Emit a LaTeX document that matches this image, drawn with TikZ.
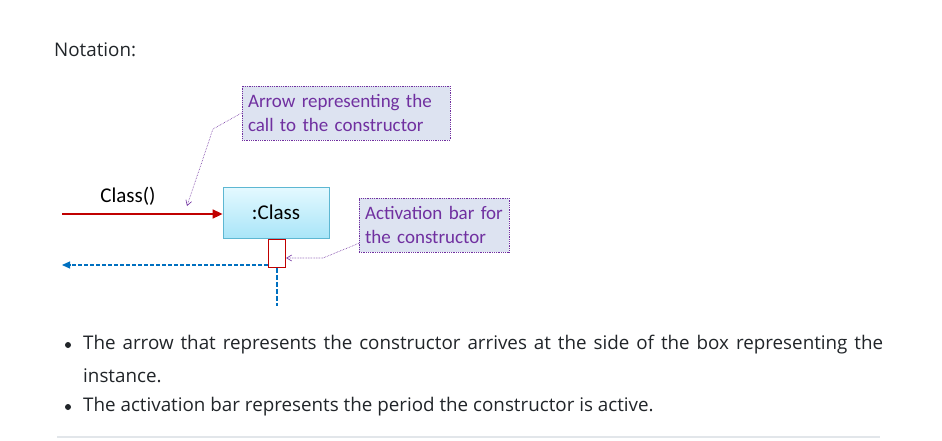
\documentclass[tikz,border=0pt]{standalone}
\usepackage{fontspec}
\setmainfont{Open Sans}
\newfontfamily\calib{Carlito}
\usetikzlibrary{arrows.meta,calc}
\definecolor{bodytext}{HTML}{212529}
\definecolor{purp}{HTML}{7030A0}
\definecolor{callfill}{HTML}{DDE3F1}
\definecolor{umlred}{HTML}{C00000}
\definecolor{umlblue}{HTML}{0070C0}
\definecolor{boxborder}{HTML}{5DB7D2}
\definecolor{boxtop}{HTML}{E4F9FF}
\definecolor{boxbot}{HTML}{A9E5F8}
\tikzset{
  body/.style={font=\fontsize{18.8}{22}\selectfont, text=bodytext, inner sep=0pt, anchor=west},
  callout/.style={draw=purp, densely dotted, line width=0.8pt, fill=callfill, inner xsep=6pt, inner ysep=0pt,
     font=\calib\fontsize{19}{24}\selectfont, text=purp, align=left},
  note/.style={draw=purp, densely dotted, line width=0.6pt, -{Straight Barb[length=5pt,width=6pt]}},
  bullet/.style={circle, fill=bodytext, inner sep=0pt, minimum size=6pt},
  umllabel/.style={font=\calib\fontsize{21}{24}\selectfont, text=black},
}
\begin{document}
\begin{tikzpicture}[x=1pt,y=-1pt]
\useasboundingbox (0,0) rectangle (942,441);
\fill[white] (0,0) rectangle (942,441);
% heading
\node[body] (notation) at (54,50) {Notation:};
% callouts
\node[callout, minimum width=208pt, minimum height=54pt, text width=196pt] (c1) at (346,113)
  {Arrow representing the\\call to the constructor};
\node[callout, minimum width=150pt, minimum height=54pt, text width=138pt] (c2) at (434,225)
  {Activation bar for\\the constructor};
% instance box
\node[draw=boxborder, line width=0.8pt, top color=boxtop, bottom color=boxbot, minimum width=106pt, minimum height=51pt,
  umllabel] (cls) at (276,212.5) {:Class};
% activation bar
\node[draw=umlred, line width=1.3pt, fill=white, minimum width=17pt, minimum height=28pt, inner sep=0pt, anchor=north] (bar) at (277,238.5) {};
% call arrow
\coordinate (callstart) at (62,214);
\draw[umlred, line width=1.6pt, -{Triangle[length=10pt,width=9pt]}] (callstart) -- (cls.west |- callstart);
\node[umllabel] (calllbl) at (128,196) {Class()};
% return arrow
\coordinate (retend) at (62,265);
\draw[umlblue, line width=1.2pt, dash pattern=on 4pt off 2pt, -{Triangle[length=8pt,width=7pt]}] (bar.west |- retend) -- (retend);
% lifeline
\coordinate (lifeend) at (277,306);
\draw[umlblue, line width=1.4pt, dash pattern=on 5pt off 2pt] (bar.south) -- (lifeend);
% note connectors
\coordinate (n1bend) at (213,129);
\coordinate (n1tip) at (187,206);
\draw[note] (c1.west) -- (n1bend) -- (n1tip);
\coordinate (n2bend) at (323,258);
\draw[note] ($(c2.south west)+(0,-9)$) -- (n2bend) -- (bar.east |- n2bend);
% bullets
\node[bullet] (b1) at (68,345) {};
\node[body] (t1) at (83,345) {\makebox[800pt][s]{The arrow that represents the constructor arrives at the side of the box representing the}};
\node[body] (t1b) at (83,376) {instance.};
\node[bullet] (b2) at (68,407) {};
\node[body] (t2) at (83,407) {The activation bar represents the period the constructor is active.};
% rule
\draw[draw={rgb,255:red,226;green,230;blue,234}, line width=1.5pt] (57,437) -- (880,437);
\end{tikzpicture}
\end{document}
